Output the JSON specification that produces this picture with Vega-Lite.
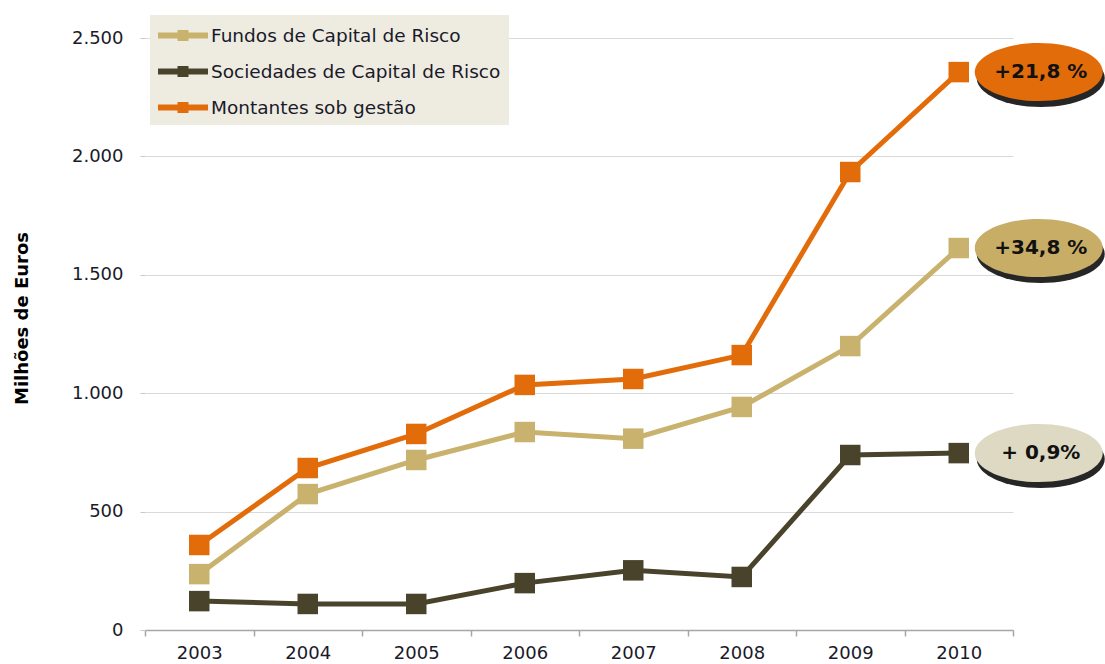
{
  "$schema": "https://vega.github.io/schema/vega-lite/v6.json",
  "autosize": {"type": "none"},
  "padding": {"left": 145, "top": 38, "right": 92, "bottom": 34},
  "width": 868,
  "height": 592,
  "background": "white",
  "config": {
    "view": {"stroke": null},
    "font": "DejaVu Sans"
  },
  "datasets": {
    "main": [
      {"series": "Fundos de Capital de Risco", "year": "2003", "value": 236},
      {"series": "Fundos de Capital de Risco", "year": "2004", "value": 574},
      {"series": "Fundos de Capital de Risco", "year": "2005", "value": 718},
      {"series": "Fundos de Capital de Risco", "year": "2006", "value": 836},
      {"series": "Fundos de Capital de Risco", "year": "2007", "value": 808},
      {"series": "Fundos de Capital de Risco", "year": "2008", "value": 942},
      {"series": "Fundos de Capital de Risco", "year": "2009", "value": 1199},
      {"series": "Fundos de Capital de Risco", "year": "2010", "value": 1613},
      {"series": "Sociedades de Capital de Risco", "year": "2003", "value": 122},
      {"series": "Sociedades de Capital de Risco", "year": "2004", "value": 110},
      {"series": "Sociedades de Capital de Risco", "year": "2005", "value": 110},
      {"series": "Sociedades de Capital de Risco", "year": "2006", "value": 198},
      {"series": "Sociedades de Capital de Risco", "year": "2007", "value": 252},
      {"series": "Sociedades de Capital de Risco", "year": "2008", "value": 224},
      {"series": "Sociedades de Capital de Risco", "year": "2009", "value": 739},
      {"series": "Sociedades de Capital de Risco", "year": "2010", "value": 747},
      {"series": "Montantes sob gestão", "year": "2003", "value": 359},
      {"series": "Montantes sob gestão", "year": "2004", "value": 684},
      {"series": "Montantes sob gestão", "year": "2005", "value": 828},
      {"series": "Montantes sob gestão", "year": "2006", "value": 1035},
      {"series": "Montantes sob gestão", "year": "2007", "value": 1060},
      {"series": "Montantes sob gestão", "year": "2008", "value": 1161},
      {"series": "Montantes sob gestão", "year": "2009", "value": 1934},
      {"series": "Montantes sob gestão", "year": "2010", "value": 2356}
    ],
    "badges": [
      {"series": "Montantes sob gestão", "year": "2010", "value": 2356, "label": "+21,8 %"},
      {"series": "Fundos de Capital de Risco", "year": "2010", "value": 1613, "label": "+34,8 %"},
      {"series": "Sociedades de Capital de Risco", "year": "2010", "value": 747, "label": "+ 0,9%"}
    ]
  },
  "encoding": {
    "x": {
      "field": "year",
      "type": "nominal",
      "scale": {"type": "band", "paddingInner": 0, "paddingOuter": 0},
      "axis": {
        "title": null,
        "labelAngle": 0,
        "tickBand": "extent",
        "domainColor": "#a6a6a6",
        "domainWidth": 1.5,
        "tickColor": "#a6a6a6",
        "tickWidth": 1.5,
        "tickSize": 6,
        "labelPadding": 8,
        "labelFont": "DejaVu Sans",
        "labelFontSize": 18,
        "labelColor": "#1a1a2a"
      }
    },
    "y": {
      "field": "value",
      "type": "quantitative",
      "scale": {"domain": [0, 2500], "nice": false},
      "axis": {
        "values": [0, 500, 1000, 1500, 2000, 2500],
        "labelExpr": "replace(format(datum.value, ','), ',', '.')",
        "grid": true,
        "gridColor": "#d9d9d9",
        "gridWidth": 1,
        "domain": false,
        "tickColor": "#c8c8c8",
        "tickSize": 5,
        "labelPadding": 17,
        "labelFont": "DejaVu Sans",
        "labelFontSize": 18,
        "labelColor": "#1a1a2a",
        "title": "Milhões de Euros",
        "titleFont": "DejaVu Sans",
        "titleFontWeight": "bold",
        "titleFontSize": 18,
        "titleColor": "#000000",
        "titleAngle": 270,
        "titleAlign": "center",
        "titleBaseline": "middle",
        "titleX": -123,
        "titleY": 280
      }
    }
  },
  "layer": [
    {
      "data": {"name": "main"},
      "mark": {"type": "line", "strokeWidth": 5},
      "encoding": {
        "color": {
          "field": "series",
          "type": "nominal",
          "scale": {
            "domain": ["Fundos de Capital de Risco", "Sociedades de Capital de Risco", "Montantes sob gestão"],
            "range": ["#c9b26d", "#4a432c", "#e36c0a"]
          },
          "legend": {
            "orient": "none",
            "legendX": 5,
            "legendY": -23,
            "title": null,
            "fillColor": "#eeece1",
            "padding": 8,
            "symbolType": "M-1,-0.24 L3,-0.24 L3,0.24 L-1,0.24 Z M0.56,-0.44 L1.44,-0.44 L1.44,0.44 L0.56,0.44 Z",
            "symbolSize": 625,
            "symbolStrokeWidth": 0,
            "labelOffset": 28,
            "rowPadding": 14,
            "labelFont": "DejaVu Sans",
            "labelFontSize": 18.5,
            "labelColor": "#1a1a2a",
            "labelLimit": 500,
            "encode": {
              "symbols": {
                "update": {
                  "fill": {"scale": "color", "field": "value"},
                  "stroke": {"value": "transparent"},
                  "opacity": {"value": 1}
                }
              }
            }
          }
        }
      }
    },
    {
      "data": {"name": "main"},
      "mark": {"type": "square", "size": 420, "opacity": 1, "filled": true},
      "encoding": {
        "color": {"field": "series", "type": "nominal"}
      }
    },
    {
      "data": {"name": "badges"},
      "mark": {
        "type": "point",
        "filled": true,
        "size": 10000,
        "opacity": 0.85,
        "shape": "M0.36,0.12 C0.36,-0.2 0.933,-0.46 1.64,-0.46 C2.347,-0.46 2.92,-0.2 2.92,0.12 C2.92,0.44 2.347,0.7 1.64,0.7 C0.933,0.7 0.36,0.44 0.36,0.12 Z",
        "color": "#000000"
      },
      "encoding": {}
    },
    {
      "data": {"name": "badges"},
      "mark": {
        "type": "point",
        "filled": true,
        "size": 10000,
        "opacity": 1,
        "shape": "M0.32,0 C0.32,-0.32 0.893,-0.58 1.6,-0.58 C2.307,-0.58 2.88,-0.32 2.88,0 C2.88,0.32 2.307,0.58 1.6,0.58 C0.893,0.58 0.32,0.32 0.32,0 Z"
      },
      "encoding": {
        "fill": {
          "field": "series",
          "type": "nominal",
          "scale": {
            "domain": ["Fundos de Capital de Risco", "Sociedades de Capital de Risco", "Montantes sob gestão"],
            "range": ["#c8ad66", "#ddd9c3", "#e36c0a"]
          },
          "legend": null
        }
      }
    },
    {
      "data": {"name": "badges"},
      "mark": {
        "type": "text",
        "dx": 82,
        "align": "center",
        "baseline": "middle",
        "font": "DejaVu Sans",
        "fontWeight": "bold",
        "fontSize": 20,
        "color": "#111111"
      },
      "encoding": {
        "text": {"field": "label"}
      }
    }
  ]
}
